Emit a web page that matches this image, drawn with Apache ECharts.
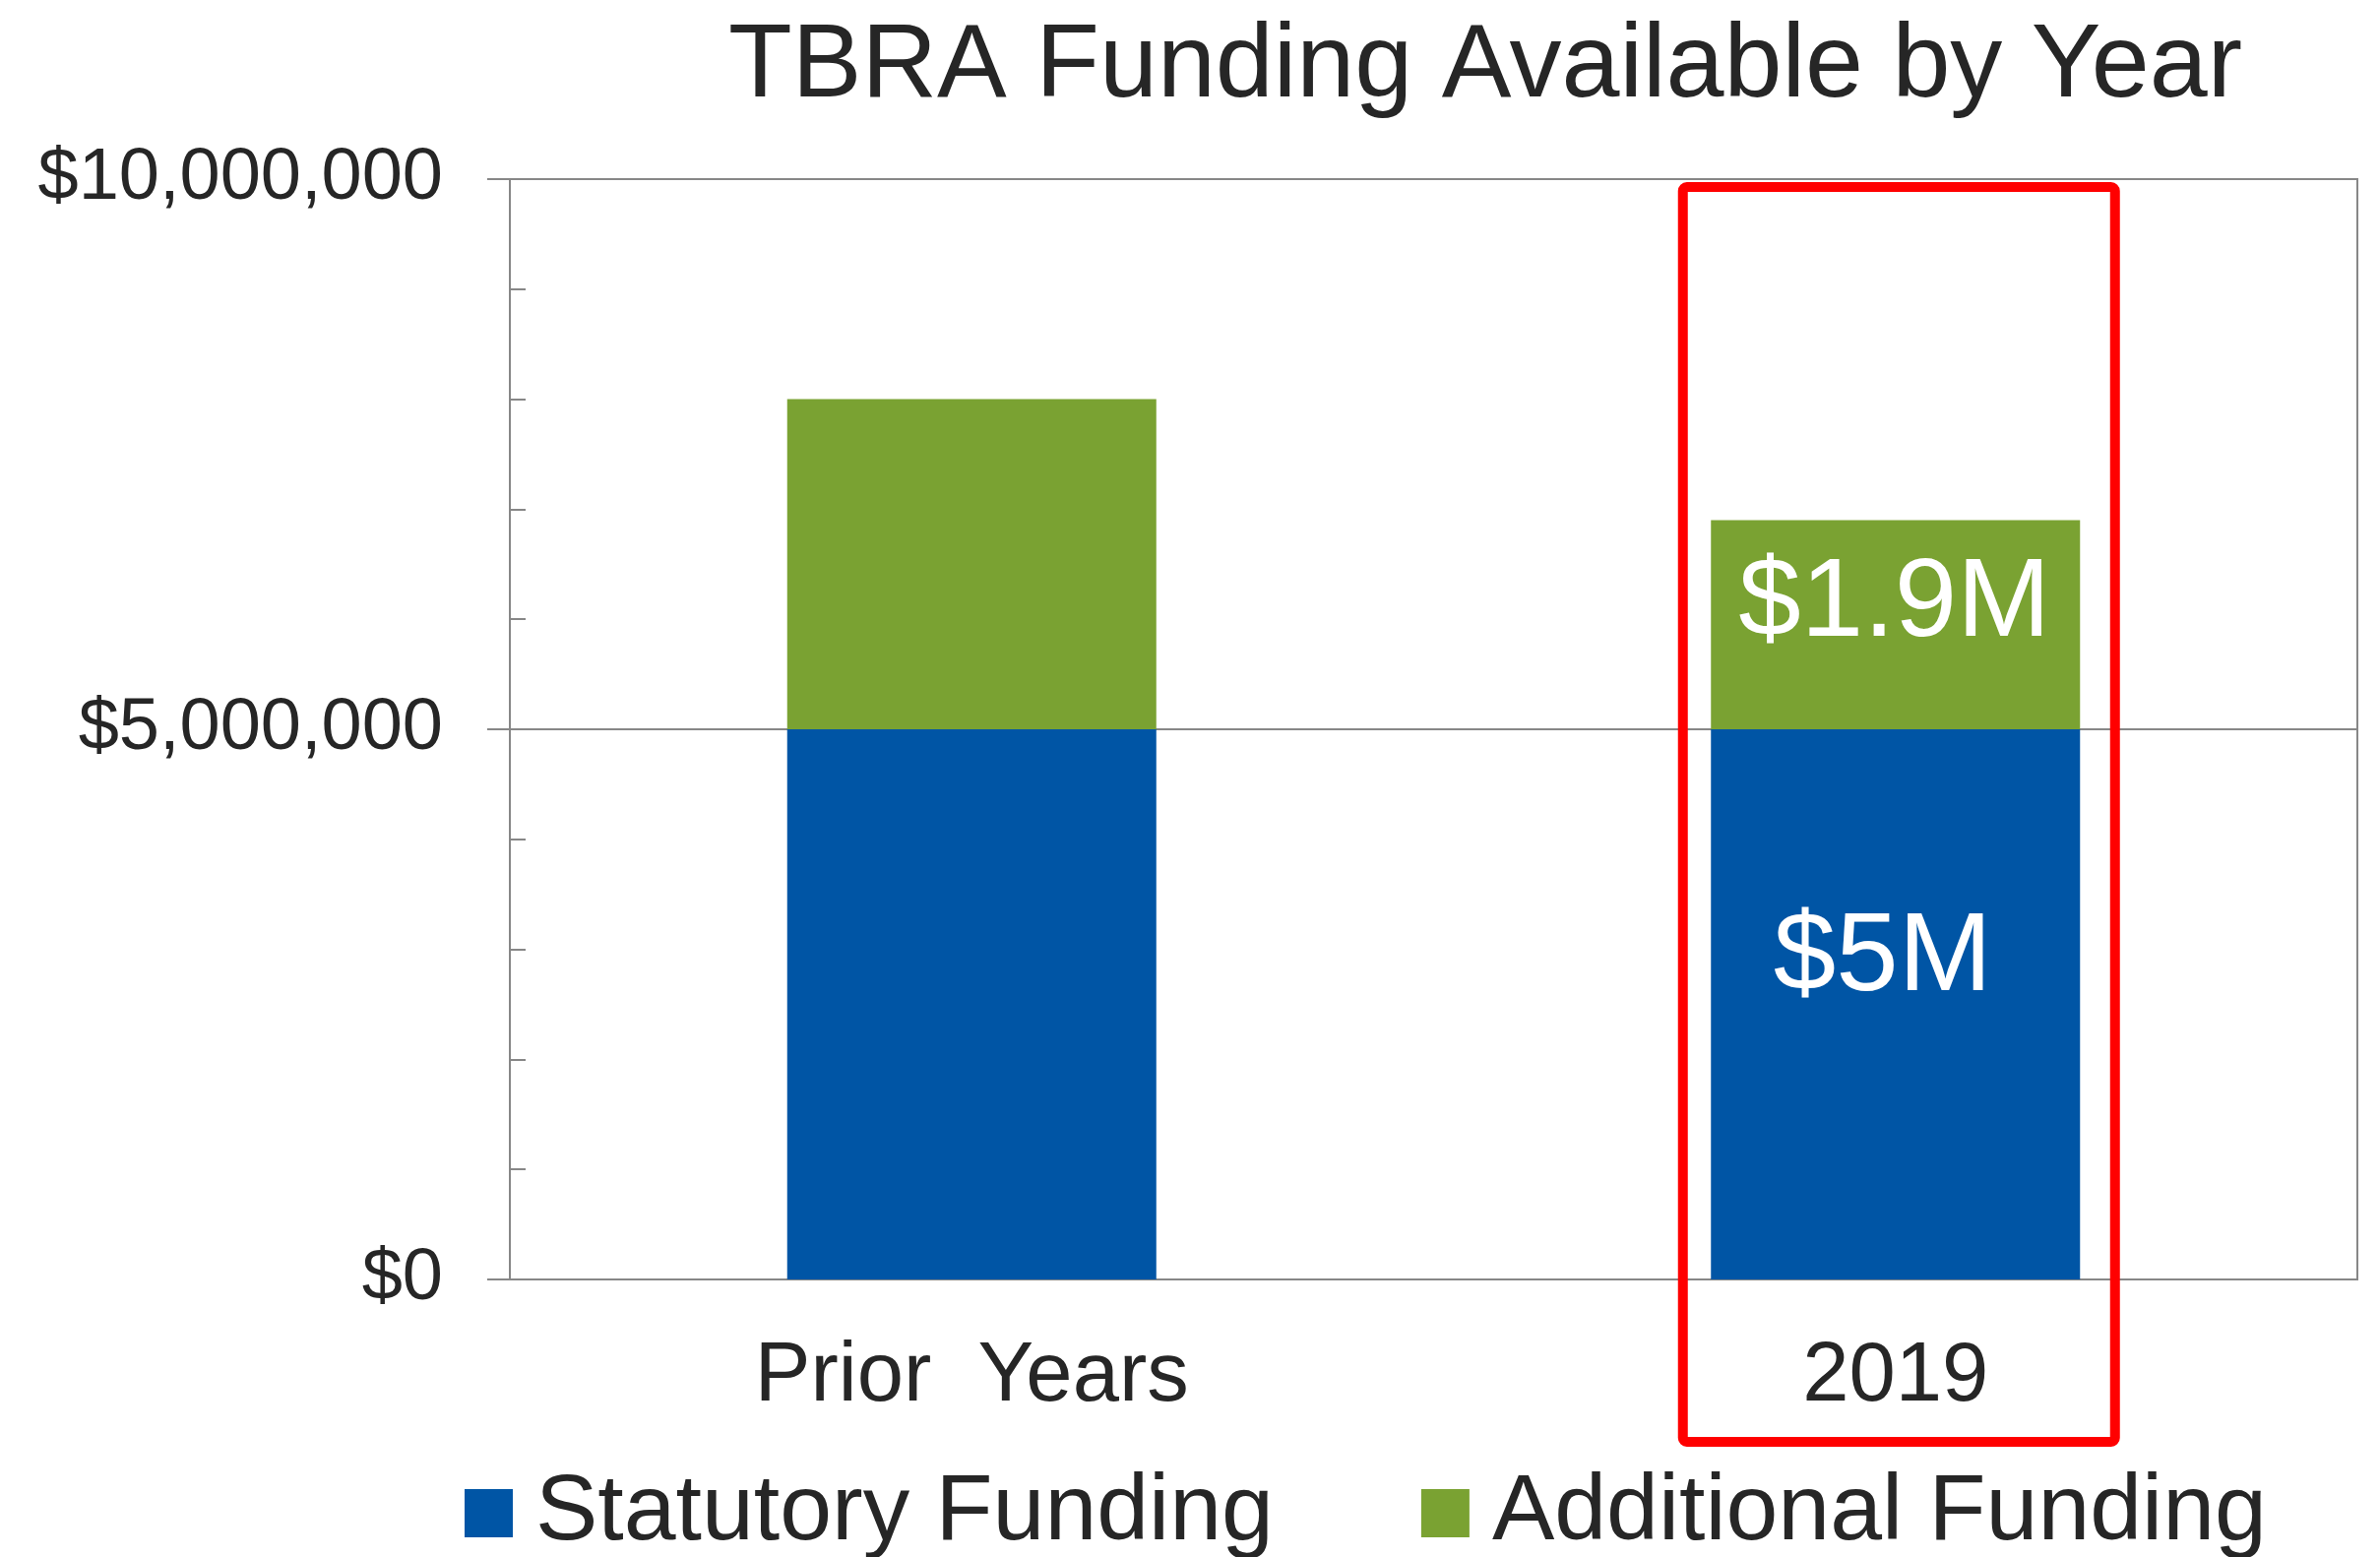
<!DOCTYPE html>
<html>
<head>
<meta charset="utf-8">
<title>TBRA Funding Available by Year</title>
<script src="https://cdn.jsdelivr.net/npm/echarts@6/dist/echarts.min.js"></script>
<style>
  html, body { margin: 0; padding: 0; background: #fff; }
  #chart { width: 2418px; height: 1582px; }
</style>
</head>
<body>
<div id="chart"></div>
<script>
// data
const categories = ['Prior  Years', '2019']
const statutoryFunding = [5000000, 5000000]
const additionalFunding = [3000000, 1900000]
const yTicks = [0, 5000000, 10000000]
const labelledIndex = 1 // only the 2019 bar carries value labels

const textColor = '#262626'
const axisColor = '#878787'
const fontFamily = '"Liberation Sans", Arial, sans-serif'

function money(v) {
  return '$' + v.toLocaleString('en-US')
}

function toItems(values, offset) {
  return values.map(function (v, i) {
    if (i !== labelledIndex) return v
    return {
      value: v,
      label: {
        show: true,
        position: 'inside',
        offset: offset,
        color: '#fff',
        fontSize: 114,
        fontFamily: fontFamily,
        formatter: function (p) {
          return '$' + p.value / 1000000 + 'M'
        }
      }
    }
  })
}

const chart = echarts.init(document.getElementById('chart'))

const option = {
  animation: false,
  backgroundColor: '#fff',
  textStyle: { fontFamily: fontFamily },
  title: {
    text: 'TBRA Funding Available by Year',
    left: 1504,
    top: 11,
    textAlign: 'center',
    textStyle: {
      fontSize: 106,
      lineHeight: 106,
      fontWeight: 'normal',
      color: textColor,
      fontFamily: fontFamily
    }
  },
  legend: {
    left: 467,
    top: 1485,
    itemWidth: 49,
    itemHeight: 49,
    itemGap: 150,
    icon: 'rect',
    textStyle: {
      fontSize: 95,
      lineHeight: 95,
      color: textColor,
      padding: [0, 0, 0, 18],
      fontFamily: fontFamily
    },
    data: ['Statutory Funding', 'Additional Funding']
  },
  grid: {
    left: 518,
    right: 23,
    top: 182,
    bottom: 282,
    show: true,
    borderColor: axisColor,
    borderWidth: 2,
    containLabel: false
  },
  xAxis: {
    type: 'category',
    data: categories,
    axisLine: { lineStyle: { color: axisColor, width: 2 } },
    axisTick: { show: false },
    axisLabel: {
      margin: 57,
      fontSize: 85,
      lineHeight: 85,
      color: textColor,
      fontFamily: fontFamily
    }
  },
  yAxis: {
    type: 'value',
    min: yTicks[0],
    max: yTicks[yTicks.length - 1],
    interval: yTicks[1] - yTicks[0],
    axisLine: { show: true, lineStyle: { color: axisColor, width: 2 } },
    axisTick: { show: true, length: 23, lineStyle: { color: axisColor, width: 2 } },
    minorTick: { show: true, splitNumber: 5, length: -16, lineStyle: { color: axisColor, width: 2 } },
    splitLine: { show: true, lineStyle: { color: axisColor, width: 2 } },
    axisLabel: {
      margin: 68,
      fontSize: 74,
      color: textColor,
      fontFamily: fontFamily,
      formatter: money
    }
  },
  series: [
    {
      name: 'Statutory Funding',
      type: 'bar',
      stack: 'funding',
      barWidth: 375,
      itemStyle: { color: '#0055A5' },
      data: toItems(statutoryFunding, [-13, -46])
    },
    {
      name: 'Additional Funding',
      type: 'bar',
      stack: 'funding',
      barWidth: 375,
      itemStyle: { color: '#7AA232' },
      data: toItems(additionalFunding, [-1, -20])
    }
  ]
}

chart.setOption(option)

// red highlight box round the 2019 column
const cx = chart.convertToPixel({ xAxisIndex: 0 }, categories[labelledIndex])
const yTop = chart.convertToPixel({ yAxisIndex: 0 }, yTicks[yTicks.length - 1])
const yBase = chart.convertToPixel({ yAxisIndex: 0 }, yTicks[0])
chart.setOption({
  graphic: [
    {
      type: 'rect',
      z: 100,
      shape: { x: cx - 216, y: yTop + 8, width: 439, height: yBase - yTop + 157, r: 4 },
      style: { fill: 'none', stroke: '#FF0000', lineWidth: 10 }
    }
  ]
})
</script>
</body>
</html>
